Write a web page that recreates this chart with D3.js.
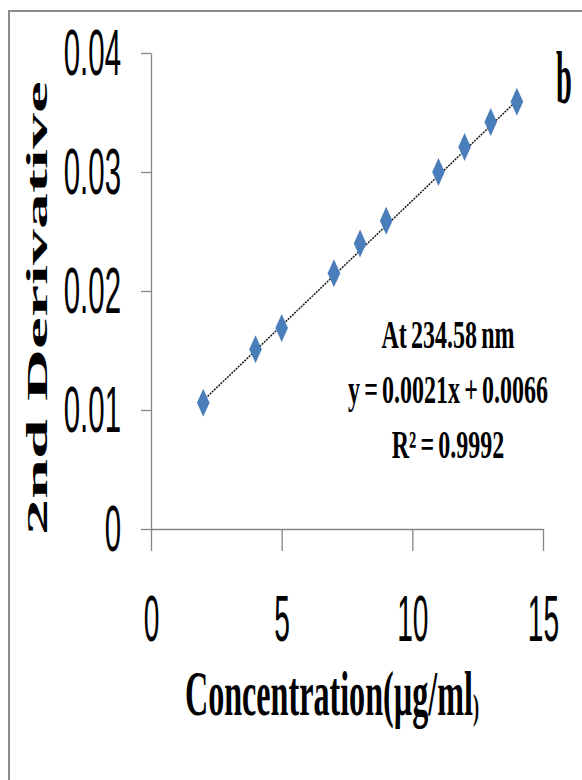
<!DOCTYPE html>
<html lang="en">
<head>
    <meta charset="UTF-8">
    <title>2nd Derivative calibration</title>
    <script type="text/javascript" src="https://cdn.jsdelivr.net/npm/d3@7"></script>
    <style>
        body {
            margin: 0;
            background: #fff;
        }

        .axis path,
        .axis line {
            stroke: #868686;
            stroke-width: 1.3;
        }

        .axis text {
            font-family: "Liberation Sans", Arial, sans-serif;
            font-size: 64px;
            fill: #000;
        }

        .title {
            font-family: "Liberation Serif", "Times New Roman", serif;
            font-weight: bold;
            fill: #000;
        }
    </style>
</head>
<body>
<svg width="582" height="780"></svg>

<script>
    // concentration (µg/ml) and 2nd derivative amplitude
    var conc = [2, 4, 5, 7, 8, 9, 11, 12, 13, 14];
    var deriv = [0.0106, 0.0151, 0.0169, 0.0215, 0.0240, 0.0259, 0.0300, 0.0321, 0.0342, 0.0359];

    // tick labels
    var xTicks = [0, 5, 10, 15];
    var yTicks = [0, 0.01, 0.02, 0.03, 0.04];

    // linear fit shown on the chart: slope, intercept
    var fit = [0.0021, 0.0066];
    var fitLines = ["At 234.58 nm", "y = 0.0021x + 0.0066", "R\u00b2 = 0.9992"];

    var svg = d3.select("svg");

    var x = d3.scaleLinear().domain([0, 15]).range([151, 543]);
    var y = d3.scaleLinear().domain([0, 0.04]).range([529, 53]);

    // outer frame (only top and left edges are visible)
    svg.append("path")
        .attr("d", "M9,780V11H582")
        .attr("fill", "none")
        .attr("stroke", "#8c8c8c")
        .attr("stroke-width", 2);

    // y axis
    var yAxis = svg.append("g")
        .attr("class", "axis")
        .attr("transform", "translate(" + x(0) + ",0)")
        .call(d3.axisLeft(y).tickValues(yTicks).tickSize(10).tickSizeOuter(0)
            .tickFormat(function (d) { return d === 0 ? "0" : d3.format(".2f")(d); }));

    yAxis.selectAll("text")
        .attr("x", null)
        .attr("dy", null)
        .attr("transform", "translate(-30,21) scale(0.46,1)");

    // x axis
    var xAxis = svg.append("g")
        .attr("class", "axis")
        .attr("transform", "translate(0," + y(0) + ")")
        .call(d3.axisBottom(x).tickValues(xTicks).tickSize(22).tickSizeOuter(0)
            .tickFormat(d3.format("d")));

    xAxis.selectAll("text")
        .attr("y", null)
        .attr("dy", null)
        .attr("transform", "translate(0,112) scale(0.44,1)");

    // trend line
    var fitX = d3.extent(conc);
    svg.append("line")
        .attr("x1", x(fitX[0]))
        .attr("y1", y(fit[0] * fitX[0] + fit[1]))
        .attr("x2", x(fitX[1]))
        .attr("y2", y(fit[0] * fitX[1] + fit[1]))
        .attr("stroke", "#1a1a1a")
        .attr("stroke-width", 1.5)
        .attr("stroke-dasharray", "2 1");

    // points
    var diamond = d3.symbol().type(d3.symbolDiamond).size(226);
    svg.append("g")
        .selectAll("path")
        .data(conc)
        .enter()
        .append("path")
        .attr("d", diamond)
        .attr("fill", "#4a7ebb")
        .attr("transform", function (d, i) {
            return "translate(" + x(d) + "," + y(deriv[i]) + ") scale(0.78,1)";
        });

    // axis titles
    svg.append("text")
        .attr("class", "title")
        .attr("text-anchor", "middle")
        .attr("font-size", 72)
        .attr("transform", "translate(47,308) scale(0.4,1) rotate(-90)")
        .text("2nd Derivative");

    var xTitle = svg.append("text")
        .attr("class", "title")
        .attr("text-anchor", "middle")
        .attr("font-size", 63)
        .attr("transform", "translate(332,715) scale(0.51,1)");
    xTitle.append("tspan").text("Concentration(\u00b5g/ml");
    xTitle.append("tspan").attr("font-size", 36).attr("dy", 4).text(")");

    // panel letter
    svg.append("text")
        .attr("class", "title")
        .attr("text-anchor", "middle")
        .attr("font-size", 75)
        .attr("transform", "translate(564,103) scale(0.38,1)")
        .text("b");

    // fit annotation
    svg.append("g")
        .selectAll("text")
        .data(fitLines)
        .enter()
        .append("text")
        .attr("class", "title")
        .attr("text-anchor", "middle")
        .attr("font-size", 40)
        .attr("word-spacing", -3)
        .attr("transform", function (d, i) {
            return "translate(448," + (348 + i * 55) + ") scale(0.6,1)";
        })
        .text(function (d) { return d; });
</script>
</body>
</html>
